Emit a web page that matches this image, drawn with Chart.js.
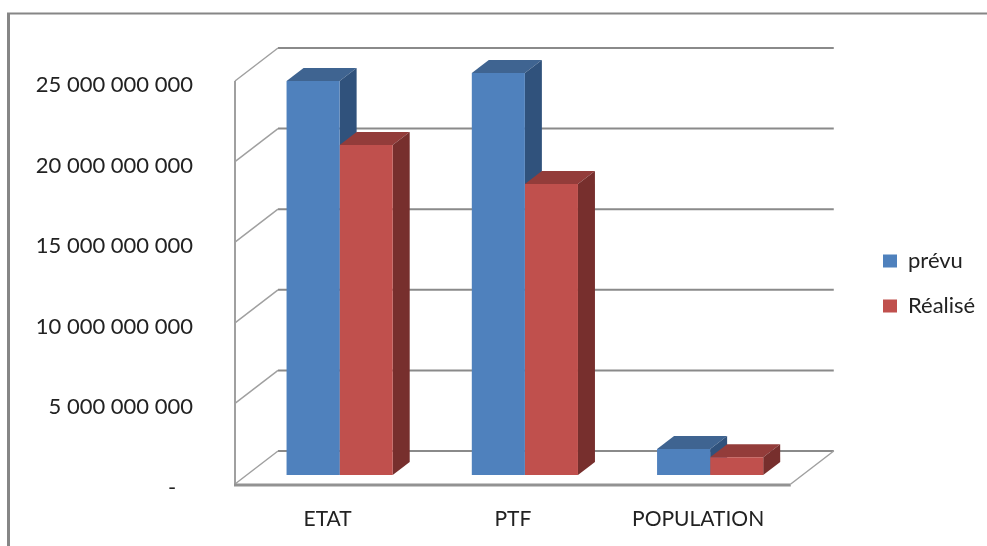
<!DOCTYPE html>
<html>
<head>
<meta charset="utf-8">
<script src="https://cdn.jsdelivr.net/npm/chart.js@4"></script>
<style>
html, body { margin: 0; padding: 0; background: #fff; }
canvas { display: block; }
</style>
</head>
<body>
<canvas id="budgetChart" width="987" height="546"></canvas>
<script>
const categories = ['ETAT', 'PTF', 'POPULATION'];
const prevu = [24440000000, 24940000000, 1610000000];
const realise = [20470000000, 18050000000, 1100000000];
const tickLabels = ['-   ', '5 000 000 000', '10 000 000 000', '15 000 000 000', '20 000 000 000', '25 000 000 000'];

// fake 3D: how far the bars and the back wall sit from the front plane
const barShift = { x: 12, y: -9 };
const barDepth = { x: 17, y: -13 };
const wallShift = { x: 43, y: -33 };
const shades = [
    { top: '#3F6491', side: '#30527C' },
    { top: '#933C3A', side: '#772F2D' }
];

const frame3d = {
    id: 'frame3d',
    beforeDraw(chart) {
        const c = chart.ctx;
        const area = chart.chartArea;
        const y = chart.scales.y;
        c.save();
        // outer border of the picture
        c.strokeStyle = '#868686';
        c.lineWidth = 2;
        c.beginPath();
        c.moveTo(8, 546);
        c.lineTo(8, 13.5);
        c.lineTo(987, 13.5);
        c.stroke();
        c.lineWidth = 3;
        c.beginPath();
        c.moveTo(8.5, 13);
        c.lineTo(8.5, 546);
        c.stroke();

        // back wall grid and the diagonals on the side wall
        y.ticks.forEach(t => {
            const py = y.getPixelForValue(t.value);
            c.strokeStyle = '#8A8A8A';
            c.lineWidth = 2;
            c.beginPath();
            c.moveTo(area.left + wallShift.x, py + wallShift.y);
            c.lineTo(area.right + wallShift.x, py + wallShift.y);
            c.stroke();
            c.strokeStyle = '#A0A0A0';
            c.lineWidth = 1.5;
            c.beginPath();
            c.moveTo(area.left, py);
            c.lineTo(area.left + wallShift.x, py + wallShift.y);
            c.stroke();
        });

        // floor edges and left wall edge
        c.strokeStyle = '#A0A0A0';
        c.lineWidth = 1.5;
        c.beginPath();
        c.moveTo(area.right, area.bottom);
        c.lineTo(area.right + wallShift.x, area.bottom + wallShift.y);
        c.stroke();
        c.lineWidth = 2;
        c.beginPath();
        c.moveTo(area.left, area.top);
        c.lineTo(area.left, area.bottom + 1);
        c.stroke();
        c.strokeStyle = '#929292';
        c.lineWidth = 3;
        c.beginPath();
        c.moveTo(area.left - 1, area.bottom + 1);
        c.lineTo(area.right, area.bottom + 1);
        c.stroke();
        c.restore();
    },
    beforeDatasetsDraw(chart) {
        const c = chart.ctx;
        c.save();
        c.translate(barShift.x, barShift.y);
        chart.data.datasets.forEach((ds, i) => {
            chart.getDatasetMeta(i).data.forEach(bar => {
                const l = bar.x - bar.width / 2;
                const r = bar.x + bar.width / 2;
                c.fillStyle = shades[i].top;
                c.beginPath();
                c.moveTo(l, bar.y);
                c.lineTo(l + barDepth.x, bar.y + barDepth.y);
                c.lineTo(r + barDepth.x, bar.y + barDepth.y);
                c.lineTo(r, bar.y);
                c.closePath();
                c.fill();
                c.fillStyle = shades[i].side;
                c.beginPath();
                c.moveTo(r, bar.y);
                c.lineTo(r + barDepth.x, bar.y + barDepth.y);
                c.lineTo(r + barDepth.x, bar.base + barDepth.y);
                c.lineTo(r, bar.base);
                c.closePath();
                c.fill();
            });
        });
    },
    afterDatasetsDraw(chart) {
        chart.ctx.restore();
    },
    afterLayout(chart) {
        // legend sits far from the plot in the original, and above the middle
        const lg = chart.legend;
        const w = lg.right - lg.left;
        lg.left = 883 - lg.options.labels.padding;
        lg.right = lg.left + w;
        lg.top -= 30;
        lg.bottom -= 30;
    }
};

const fontFamily = 'Lato, "Open Sans", sans-serif';

new Chart(document.getElementById('budgetChart').getContext('2d'), {
    type: 'bar',
    data: {
        labels: categories,
        datasets: [
            { label: 'prévu', data: prevu, backgroundColor: '#4F81BD' },
            { label: 'Réalisé', data: realise, backgroundColor: '#C0504D' }
        ]
    },
    options: {
        responsive: false,
        animation: false,
        devicePixelRatio: 1,
        layout: { padding: { top: 81, right: 71, bottom: 0, left: 0 } },
        datasets: { bar: { barPercentage: 1, categoryPercentage: 0.573, clip: false } },
        plugins: {
            tooltip: { enabled: false },
            legend: {
                position: 'right',
                labels: {
                    color: '#222',
                    font: { family: fontFamily, size: 22 },
                    boxWidth: 14,
                    boxHeight: 13,
                    padding: 23
                }
            }
        },
        scales: {
            x: {
                grid: { display: false, drawTicks: false },
                border: { display: false },
                ticks: { color: '#222', font: { family: fontFamily, size: 21 }, padding: 23, maxRotation: 0 },
                afterFit(s) { s.height = 62; }
            },
            y: {
                min: 0,
                max: 25000000000,
                grid: { display: false, drawTicks: false },
                border: { display: false },
                ticks: {
                    stepSize: 5000000000,
                    color: '#222',
                    font: { family: fontFamily, size: 22 },
                    padding: 42,
                    labelOffset: 4,
                    callback: (v, i) => tickLabels[i]
                },
                afterFit(s) { s.width = 235; }
            }
        }
    },
    plugins: [frame3d]
});
</script>
</body>
</html>
